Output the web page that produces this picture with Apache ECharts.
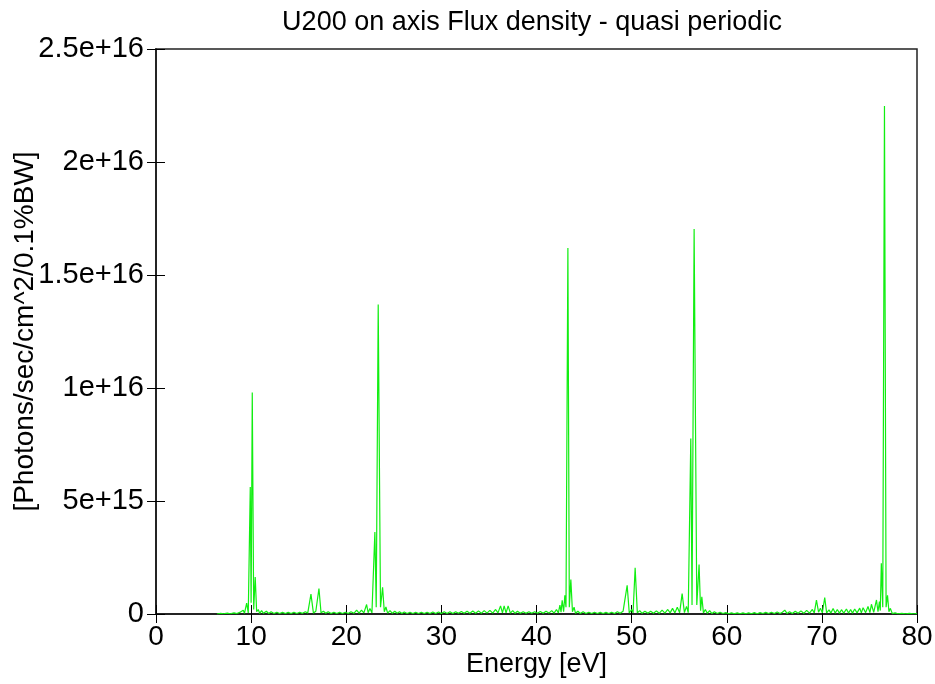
<!DOCTYPE html>
<html>
<head>
<meta charset="utf-8">
<script src="https://cdn.jsdelivr.net/npm/echarts@6/dist/echarts.min.js"></script>
<style>
html,body{margin:0;padding:0;background:#fff;}
#chart{width:935px;height:684px;}
</style>
</head>
<body>
<div id="chart"></div>
<script>
// Energy in eV
var energy = [6.4,6.8,7.1,7.5,7.8,8.2,8.5,8.8,9.0,9.17,9.3,9.53,9.7,9.91,10.0,10.12,10.27,10.43,10.58,10.75,10.9,11.1,11.3,11.6,11.85,12.1,12.4,12.7,13.0,13.3,13.6,13.9,14.2,14.5,14.8,15.1,15.4,15.7,15.95,16.29,16.55,16.8,16.95,17.13,17.35,17.6,17.85,18.1,18.4,18.7,19.0,19.3,19.6,19.9,20.2,20.5,20.8,21.09,21.35,21.6,21.85,22.14,22.3,22.49,22.7,23.01,23.15,23.36,23.6,23.82,24.0,24.17,24.35,24.6,24.85,25.1,25.35,25.6,25.85,26.1,26.4,26.7,27.0,27.3,27.6,27.9,28.2,28.5,28.8,29.1,29.4,29.7,30.0,30.3,30.6,30.9,31.2,31.5,31.8,32.1,32.4,32.7,33.0,33.3,33.6,33.9,34.2,34.5,34.8,35.1,35.4,35.7,35.95,36.22,36.42,36.6,36.8,37.02,37.25,37.5,37.75,38.0,38.3,38.6,38.9,39.2,39.5,39.8,40.1,40.4,40.7,41.0,41.3,41.6,41.85,42.1,42.3,42.46,42.58,42.7,42.85,42.98,43.1,43.3,43.45,43.61,43.78,43.95,44.1,44.35,44.6,44.9,45.2,45.5,45.8,46.1,46.4,46.7,47.0,47.3,47.6,47.9,48.2,48.5,48.8,49.1,49.3,49.53,49.75,50.0,50.15,50.37,50.6,50.85,51.1,51.4,51.7,52.0,52.3,52.6,52.9,53.2,53.5,53.8,54.05,54.3,54.55,54.8,55.05,55.31,55.55,55.77,55.95,56.22,56.35,56.57,56.85,57.09,57.25,57.38,57.55,57.75,57.95,58.2,58.45,58.7,59.0,59.3,59.6,59.9,60.2,60.5,60.8,61.1,61.4,61.7,62.0,62.3,62.6,62.9,63.2,63.5,63.8,64.1,64.4,64.7,65.0,65.3,65.6,65.85,66.1,66.35,66.6,66.9,67.2,67.5,67.8,68.1,68.4,68.7,69.0,69.2,69.43,69.65,69.85,70.05,70.3,70.5,70.75,70.95,71.18,71.4,71.62,71.85,72.06,72.3,72.58,72.8,73.02,73.22,73.45,73.7,73.98,74.15,74.33,74.6,74.85,75.05,75.21,75.45,75.74,75.9,76.05,76.14,76.25,76.4,76.58,76.75,76.9,77.05,77.2,77.4,77.7,78.0,78.4,78.8,79.2,79.6,80.0];
// Flux density in units of 1e15 photons/sec/cm^2/0.1%BW
var flux = [0,0.03,0.01,0.04,0.01,0.05,0.02,0.07,0.02,0.17,0.03,0.48,0.05,5.62,0.5,9.8,0.2,1.64,0.1,0.2,0.03,0.15,0.03,0.12,0.02,0.1,0.02,0.08,0.02,0.07,0.02,0.07,0.02,0.08,0.02,0.08,0.03,0.1,0.04,0.88,0.04,0.12,0.05,1.13,0.05,0.12,0.03,0.1,0.02,0.08,0.02,0.08,0.02,0.08,0.02,0.1,0.03,0.17,0.04,0.17,0.05,0.42,0.06,0.24,0.05,3.63,0.3,13.7,0.3,1.18,0.1,0.31,0.04,0.15,0.03,0.12,0.03,0.1,0.02,0.09,0.02,0.08,0.02,0.08,0.02,0.08,0.02,0.08,0.02,0.09,0.02,0.09,0.02,0.1,0.02,0.1,0.02,0.1,0.03,0.11,0.03,0.12,0.03,0.13,0.03,0.14,0.03,0.15,0.04,0.16,0.04,0.2,0.05,0.36,0.05,0.36,0.05,0.36,0.04,0.15,0.03,0.12,0.03,0.1,0.03,0.1,0.03,0.1,0.03,0.11,0.03,0.12,0.04,0.15,0.04,0.2,0.05,0.39,0.08,0.61,0.1,0.83,0.3,16.2,0.3,1.52,0.1,0.3,0.03,0.12,0.02,0.1,0.02,0.08,0.02,0.08,0.02,0.07,0.02,0.07,0.02,0.08,0.02,0.1,0.03,0.12,0.04,1.27,0.05,0.2,0.05,2.04,0.05,0.15,0.03,0.12,0.03,0.12,0.03,0.14,0.03,0.17,0.04,0.2,0.05,0.25,0.05,0.3,0.06,0.9,0.06,0.34,0.06,7.76,0.4,17.04,0.4,2.19,0.15,0.76,0.05,0.2,0.03,0.15,0.02,0.1,0.02,0.08,0.02,0.06,0.01,0.05,0.01,0.05,0.01,0.05,0.01,0.05,0.01,0.06,0.01,0.06,0.02,0.07,0.02,0.08,0.02,0.09,0.02,0.08,0.17,0.02,0.1,0.02,0.12,0.03,0.14,0.03,0.16,0.04,0.2,0.05,0.61,0.08,0.25,0.05,0.73,0.05,0.18,0.04,0.24,0.04,0.2,0.04,0.19,0.04,0.22,0.04,0.2,0.04,0.22,0.05,0.26,0.05,0.28,0.06,0.33,0.06,0.43,0.07,0.62,0.1,0.55,0.15,2.25,0.3,22.48,0.3,0.83,0.1,0.25,0.02,0.05,0.01,0.03,0.01,0.03,0.01,0.02];

var xTicks = [0,10,20,30,40,50,60,70,80];
var yTickValues = [0,5,10,15,20,25];
var yTickLabels = ['0','5e+15','1e+16','1.5e+16','2e+16','2.5e+16'];
var titleText = 'U200 on axis Flux density - quasi periodic';
var xName = 'Energy [eV]';
var yName = '[Photons/sec/cm^2/0.1%BW]';

var seriesData = energy.map(function(e, i){ return [e, flux[i]]; });
var FONT = 'Liberation Sans, Arial, Helvetica, sans-serif';

function yLabel(v){
  var idx = yTickValues.indexOf(Math.round(v*1000)/1000);
  return idx >= 0 ? yTickLabels[idx] : '';
}

var chart = echarts.init(document.getElementById('chart'), null, {renderer:'canvas'});
var tickStyle = {show:true, inside:true, length:9, lineStyle:{color:'#000', width:1}};
chart.setOption({
  animation:false,
  backgroundColor:'#fff',
  title:{
    text:titleText, left:527, top:4, textAlign:'center',
    textStyle:{fontFamily:FONT, fontSize:27, fontWeight:'normal', color:'#000'}
  },
  grid:{left:156, right:18, top:49, bottom:70, containLabel:false, outerBoundsMode:'none',
    show:true, borderColor:'#222', borderWidth:1.5, backgroundColor:'transparent'},
  xAxis:[{
    type:'value', min:xTicks[0], max:xTicks[xTicks.length-1], interval:10,
    name:xName, nameLocation:'middle', nameGap:37, nameMoveOverlap:false,
    nameTextStyle:{fontFamily:FONT, fontSize:27, color:'#000'},
    axisLine:{show:true, lineStyle:{color:'#222', width:1.5}},
    axisTick:tickStyle,
    axisLabel:{fontFamily:FONT, fontSize:28, color:'#000', margin:9},
    splitLine:{show:false}
  },{
    type:'value', position:'top', min:xTicks[0], max:xTicks[xTicks.length-1], interval:10,
    axisLine:{show:true, lineStyle:{color:'#222', width:1.5}},
    axisTick:tickStyle, axisLabel:{show:false}, splitLine:{show:false}
  }],
  yAxis:[{
    type:'value', min:0, max:25, interval:5,
    name:yName, nameLocation:'middle', nameGap:117, nameMoveOverlap:false,
    nameTextStyle:{fontFamily:FONT, fontSize:28, color:'#000'},
    axisLine:{show:true, lineStyle:{color:'#222', width:1.5}},
    axisTick:tickStyle,
    axisLabel:{fontFamily:FONT, fontSize:29, color:'#000', margin:12, formatter:yLabel},
    splitLine:{show:false}
  },{
    type:'value', position:'right', min:0, max:25, interval:5,
    axisLine:{show:true, lineStyle:{color:'#222', width:1.5}},
    axisTick:tickStyle, axisLabel:{show:false}, splitLine:{show:false}
  }],
  series:[{
    type:'line', data:seriesData, xAxisIndex:0, yAxisIndex:0,
    showSymbol:false, symbol:'none',
    lineStyle:{color:'#11ee11', width:1.2},
    z:1
  }]
});
</script>
</body>
</html>
